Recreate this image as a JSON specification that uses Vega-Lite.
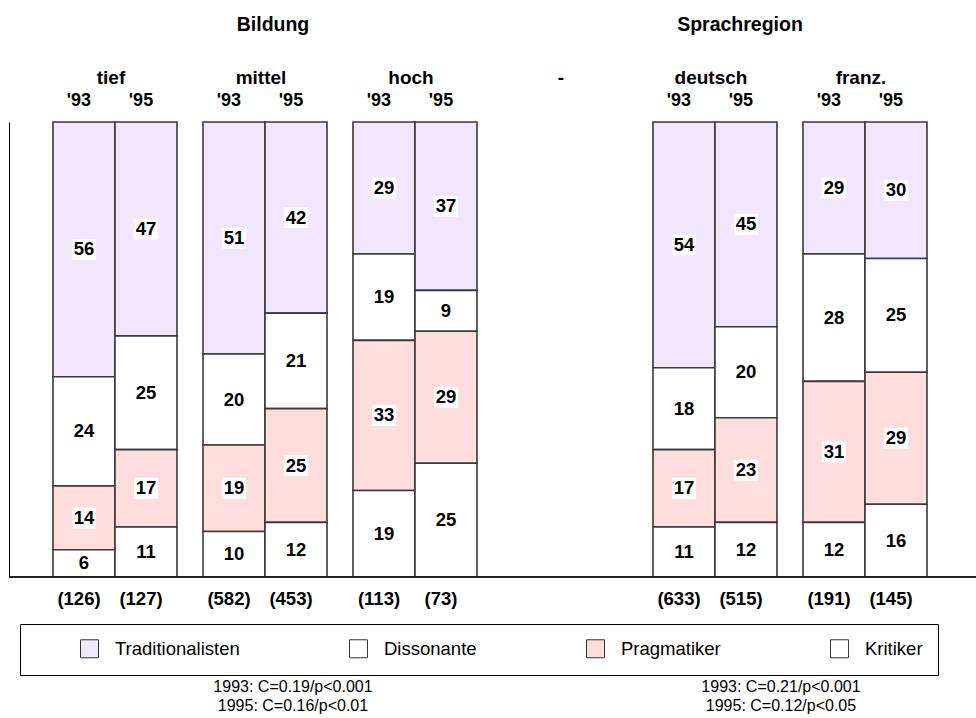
{
  "$schema": "https://vega.github.io/schema/vega-lite/v6.json",
  "width": 967,
  "height": 455,
  "autosize": {"type": "none"},
  "padding": {"left": 9, "top": 122, "right": 0, "bottom": 141},
  "config": {
    "font": "Liberation Sans",
    "view": {"stroke": null},
    "text": {"font": "Liberation Sans", "color": "black"}
  },
  "datasets": {
    "shares": [
      {"group": "tief", "year": "'93", "typ": "Traditionalisten", "rank": 4, "pct": 56},
      {"group": "tief", "year": "'93", "typ": "Dissonante", "rank": 3, "pct": 24},
      {"group": "tief", "year": "'93", "typ": "Pragmatiker", "rank": 2, "pct": 14},
      {"group": "tief", "year": "'93", "typ": "Kritiker", "rank": 1, "pct": 6},
      {"group": "tief", "year": "'95", "typ": "Traditionalisten", "rank": 4, "pct": 47},
      {"group": "tief", "year": "'95", "typ": "Dissonante", "rank": 3, "pct": 25},
      {"group": "tief", "year": "'95", "typ": "Pragmatiker", "rank": 2, "pct": 17},
      {"group": "tief", "year": "'95", "typ": "Kritiker", "rank": 1, "pct": 11},
      {"group": "mittel", "year": "'93", "typ": "Traditionalisten", "rank": 4, "pct": 51},
      {"group": "mittel", "year": "'93", "typ": "Dissonante", "rank": 3, "pct": 20},
      {"group": "mittel", "year": "'93", "typ": "Pragmatiker", "rank": 2, "pct": 19},
      {"group": "mittel", "year": "'93", "typ": "Kritiker", "rank": 1, "pct": 10},
      {"group": "mittel", "year": "'95", "typ": "Traditionalisten", "rank": 4, "pct": 42},
      {"group": "mittel", "year": "'95", "typ": "Dissonante", "rank": 3, "pct": 21},
      {"group": "mittel", "year": "'95", "typ": "Pragmatiker", "rank": 2, "pct": 25},
      {"group": "mittel", "year": "'95", "typ": "Kritiker", "rank": 1, "pct": 12},
      {"group": "hoch", "year": "'93", "typ": "Traditionalisten", "rank": 4, "pct": 29},
      {"group": "hoch", "year": "'93", "typ": "Dissonante", "rank": 3, "pct": 19},
      {"group": "hoch", "year": "'93", "typ": "Pragmatiker", "rank": 2, "pct": 33},
      {"group": "hoch", "year": "'93", "typ": "Kritiker", "rank": 1, "pct": 19},
      {"group": "hoch", "year": "'95", "typ": "Traditionalisten", "rank": 4, "pct": 37},
      {"group": "hoch", "year": "'95", "typ": "Dissonante", "rank": 3, "pct": 9},
      {"group": "hoch", "year": "'95", "typ": "Pragmatiker", "rank": 2, "pct": 29},
      {"group": "hoch", "year": "'95", "typ": "Kritiker", "rank": 1, "pct": 25},
      {"group": "deutsch", "year": "'93", "typ": "Traditionalisten", "rank": 4, "pct": 54},
      {"group": "deutsch", "year": "'93", "typ": "Dissonante", "rank": 3, "pct": 18},
      {"group": "deutsch", "year": "'93", "typ": "Pragmatiker", "rank": 2, "pct": 17},
      {"group": "deutsch", "year": "'93", "typ": "Kritiker", "rank": 1, "pct": 11},
      {"group": "deutsch", "year": "'95", "typ": "Traditionalisten", "rank": 4, "pct": 45},
      {"group": "deutsch", "year": "'95", "typ": "Dissonante", "rank": 3, "pct": 20},
      {"group": "deutsch", "year": "'95", "typ": "Pragmatiker", "rank": 2, "pct": 23},
      {"group": "deutsch", "year": "'95", "typ": "Kritiker", "rank": 1, "pct": 12},
      {"group": "franz.", "year": "'93", "typ": "Traditionalisten", "rank": 4, "pct": 29},
      {"group": "franz.", "year": "'93", "typ": "Dissonante", "rank": 3, "pct": 28},
      {"group": "franz.", "year": "'93", "typ": "Pragmatiker", "rank": 2, "pct": 31},
      {"group": "franz.", "year": "'93", "typ": "Kritiker", "rank": 1, "pct": 12},
      {"group": "franz.", "year": "'95", "typ": "Traditionalisten", "rank": 4, "pct": 30},
      {"group": "franz.", "year": "'95", "typ": "Dissonante", "rank": 3, "pct": 25},
      {"group": "franz.", "year": "'95", "typ": "Pragmatiker", "rank": 2, "pct": 29},
      {"group": "franz.", "year": "'95", "typ": "Kritiker", "rank": 1, "pct": 16}
    ],
    "bars": [
      {"group": "tief", "year": "'93", "n": 126},
      {"group": "tief", "year": "'95", "n": 127},
      {"group": "mittel", "year": "'93", "n": 582},
      {"group": "mittel", "year": "'95", "n": 453},
      {"group": "hoch", "year": "'93", "n": 113},
      {"group": "hoch", "year": "'95", "n": 73},
      {"group": "deutsch", "year": "'93", "n": 633},
      {"group": "deutsch", "year": "'95", "n": 515},
      {"group": "franz.", "year": "'93", "n": 191},
      {"group": "franz.", "year": "'95", "n": 145}
    ]
  },
  "layer": [
    {
      "data": {"name": "shares"},
      "mark": {"type": "bar", "stroke": "#3a3a3a", "strokeWidth": 1.6},
      "encoding": {
        "x": {
          "field": "group",
          "type": "nominal",
          "sort": null,
          "scale": {
            "domain": ["tief", "mittel", "hoch", "-", "deutsch", "franz."],
            "paddingInner": 0.1733,
            "paddingOuter": 0.31,
            "align": 0.473
          },
          "axis": {
            "orient": "top",
            "title": null,
            "domain": false,
            "ticks": false,
            "tickSize": 0,
            "labelPadding": 45,
            "labelBaseline": "middle",
            "labelFontSize": 19,
            "labelFontWeight": "bold",
            "labelFont": "Liberation Sans",
            "labelColor": "black",
            "labelOffset": -4,
            "labelAngle": 0
          }
        },
        "xOffset": {
          "field": "year",
          "type": "nominal",
          "scale": {"domain": ["'93", "'95"], "paddingInner": 0, "paddingOuter": 0}
        },
        "y": {
          "field": "pct",
          "type": "quantitative",
          "stack": "zero",
          "scale": {"domain": [0, 100], "nice": false},
          "axis": {
            "title": null,
            "labels": false,
            "ticks": false,
            "grid": false,
            "domain": true,
            "domainColor": "black",
            "domainWidth": 1
          }
        },
        "order": {"field": "rank", "type": "quantitative"},
        "color": {
          "field": "typ",
          "type": "nominal",
          "scale": {
            "domain": ["Traditionalisten", "Dissonante", "Pragmatiker", "Kritiker"],
            "range": ["#F1E7FD", "#FFFFFF", "#FFDDDE", "#FFFFFF"]
          },
          "legend": {
            "orient": "none",
            "legendX": 11,
            "legendY": 502,
            "direction": "horizontal",
            "title": "\u00a0",
            "titleOrient": "left",
            "titlePadding": 45,
            "titleFontSize": 11,
            "padding": 15,
            "strokeColor": "black",
            "fillColor": "white",
            "symbolType": "square",
            "symbolSize": 324,
            "symbolStrokeColor": "#333333",
            "symbolStrokeWidth": 1,
            "labelFontSize": 18.5,
            "labelFont": "Liberation Sans",
            "labelColor": "black",
            "labelOffset": 16,
            "labelLimit": 300,
            "labelExpr": "datum.label == 'Kritiker' ? 'Kritiker\u00a0\u00a0\u00a0\u00a0\u00a0\u00a0\u00a0\u00a0\u00a0\u00a0\u00a0\u00a0' : datum.label",
            "columnPadding": 107
          }
        }
      }
    },
    {
      "data": {"values": [{"base": 0}]},
      "mark": {"type": "rule", "color": "#222222", "strokeWidth": 2},
      "encoding": {"y": {"field": "base", "type": "quantitative"}}
    },
    {
      "data": {"name": "shares"},
      "transform": [
        {"stack": "pct", "groupby": ["group", "year"], "sort": [{"field": "rank", "order": "ascending"}], "as": ["y0", "y1"]},
        {"calculate": "(datum.y0 + datum.y1) / 2", "as": "ymid"}
      ],
      "layer": [
        {
          "mark": {
            "type": "point",
            "shape": "M-1.15,-1L1.15,-1L1.15,1L-1.15,1Z",
            "filled": true,
            "color": "white",
            "opacity": 1,
            "size": 441
          },
          "encoding": {
            "x": {"field": "group", "type": "nominal", "sort": null},
            "xOffset": {"field": "year", "type": "nominal"},
            "y": {"field": "ymid", "type": "quantitative"}
          }
        },
        {
          "mark": {"type": "text", "fontSize": 18.5, "fontWeight": "bold", "baseline": "middle", "color": "black"},
          "encoding": {
            "x": {"field": "group", "type": "nominal", "sort": null},
            "xOffset": {"field": "year", "type": "nominal"},
            "y": {"field": "ymid", "type": "quantitative"},
            "text": {"field": "pct", "type": "quantitative"}
          }
        }
      ]
    },
    {
      "data": {"name": "bars"},
      "transform": [{"calculate": "'(' + datum.n + ')'", "as": "nlabel"}],
      "layer": [
        {
          "mark": {"type": "text", "fontSize": 18, "fontWeight": "bold", "baseline": "middle", "dy": -21, "dx": -5},
          "encoding": {
            "x": {"field": "group", "type": "nominal", "sort": null},
            "xOffset": {"field": "year", "type": "nominal"},
            "y": {"datum": 100, "type": "quantitative"},
            "text": {"field": "year", "type": "nominal"}
          }
        },
        {
          "mark": {"type": "text", "fontSize": 18.5, "fontWeight": "bold", "baseline": "middle", "dy": 22, "dx": -5},
          "encoding": {
            "x": {"field": "group", "type": "nominal", "sort": null},
            "xOffset": {"field": "year", "type": "nominal"},
            "y": {"datum": 0, "type": "quantitative"},
            "text": {"field": "nlabel", "type": "nominal"}
          }
        }
      ]
    },
    {
      "data": {"values": [{"group": "mittel", "label": "Bildung"}]},
      "mark": {"type": "text", "fontSize": 19.5, "fontWeight": "bold", "baseline": "middle", "dy": -97, "dx": 8},
      "encoding": {
        "x": {"field": "group", "type": "nominal", "sort": null},
        "y": {"datum": 100, "type": "quantitative"},
        "text": {"field": "label", "type": "nominal"}
      }
    },
    {
      "data": {"values": [{"group": "deutsch", "label": "Sprachregion"}]},
      "mark": {"type": "text", "fontSize": 19.5, "fontWeight": "bold", "baseline": "middle", "dy": -97, "dx": 25},
      "encoding": {
        "x": {"field": "group", "type": "nominal", "sort": null},
        "y": {"datum": 100, "type": "quantitative"},
        "text": {"field": "label", "type": "nominal"}
      }
    },
    {
      "data": {"values": [{"group": "mittel", "year": "'95", "lines": ["1993: C=0.19/p<0.001", "1995: C=0.16/p<0.01"]}]},
      "mark": {"type": "text", "fontSize": 16, "baseline": "top", "lineHeight": 19, "dy": 102, "dx": -3},
      "encoding": {
        "x": {"field": "group", "type": "nominal", "sort": null},
        "xOffset": {"field": "year", "type": "nominal"},
        "y": {"datum": 0, "type": "quantitative"},
        "text": {"field": "lines", "type": "nominal"}
      }
    },
    {
      "data": {"values": [{"group": "deutsch", "year": "'95", "lines": ["1993: C=0.21/p<0.001", "1995: C=0.12/p<0.05"]}]},
      "mark": {"type": "text", "fontSize": 16, "baseline": "top", "lineHeight": 19, "dy": 102, "dx": 35},
      "encoding": {
        "x": {"field": "group", "type": "nominal", "sort": null},
        "xOffset": {"field": "year", "type": "nominal"},
        "y": {"datum": 0, "type": "quantitative"},
        "text": {"field": "lines", "type": "nominal"}
      }
    }
  ]
}
